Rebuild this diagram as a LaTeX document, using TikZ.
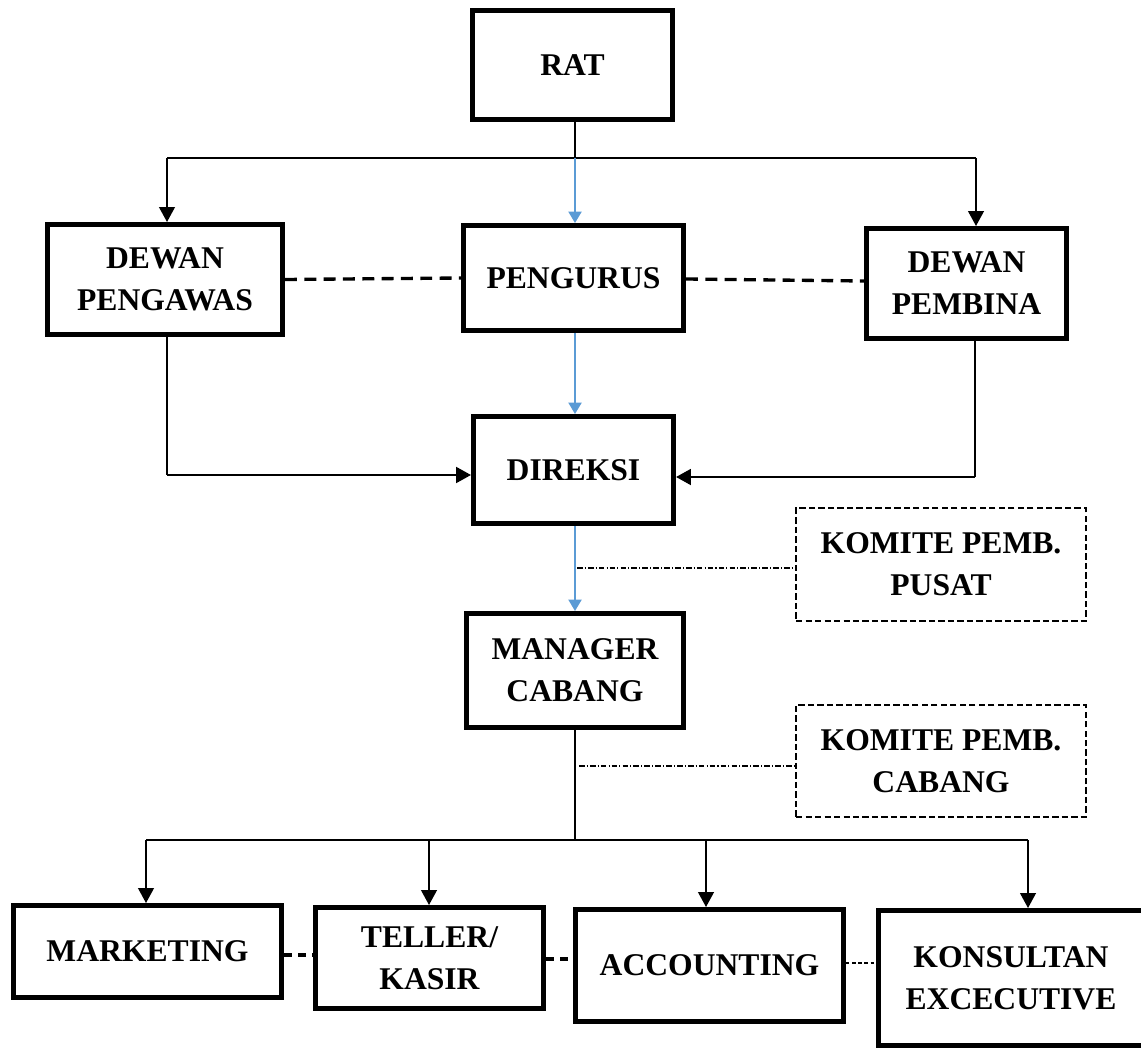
\documentclass[tikz,border=0pt]{standalone}
\usepackage{fontspec}
\setmainfont{Liberation Serif}
\usetikzlibrary{arrows.meta}
\definecolor{linkblue}{HTML}{5B9BD5}
\begin{document}
\begin{tikzpicture}[x=0.02cm,y=-0.02cm,
  txt/.style={align=center,font=\bfseries\fontsize{18}{24}\selectfont},
  box/.style={txt,draw,line width=3.1pt,rectangle,inner sep=0pt},
  bw/.style={minimum width=(#1)*0.02cm-3.1pt},
  bh/.style={minimum height=(#1)*0.02cm-3.1pt},
  kbox/.style={txt,draw,line width=1.2pt,dash pattern=on 3.6pt off 1.8pt,rectangle,inner sep=0pt,
    minimum width=292*0.02cm-1.2pt},
  thinline/.style={line width=0.7pt},
  arr/.style={line width=0.9pt,-{Triangle[width=9pt,length=8.5pt]}},
  arrthick/.style={line width=1.4pt,-{Triangle[width=9pt,length=8.5pt]}},
  barr/.style={line width=0.9pt,draw=linkblue,-{Triangle[width=7.5pt,length=6.5pt]},color=linkblue},
  thickdash/.style={line width=1.9pt,dash pattern=on 6.8pt off 4.2pt},
  shortdash/.style={line width=1.9pt,dash pattern=on 4.5pt off 3.5pt},
  dotline/.style={line width=0.8pt,dash pattern=on 1.9pt off 1.6pt},
  dashdot/.style={line width=0.6pt,dash pattern=on 3.2pt off 1.2pt on 0.6pt off 1.2pt}
]
\useasboundingbox (0,0) rectangle (1141,1050);
\fill[white] (0,0) rectangle (1141,1050);

% nodes
\node[box,bw=205,bh=114] (rat) at (572.5,65) {RAT};
\node[box,bw=240,bh=115] (pengawas) at (165,279.5) {DEWAN\\PENGAWAS};
\node[box,bw=225,bh=110] (pengurus) at (573.5,278) {PENGURUS};
\node[box,bw=205,bh=115] (pembina) at (966.5,283.5) {DEWAN\\PEMBINA};
\node[box,bw=205,bh=112] (direksi) at (573.5,470) {DIREKSI};
\node[box,bw=222,bh=119] (manager) at (575,670.5) {MANAGER\\CABANG};
\node[kbox,minimum height=115*0.02cm-1.2pt] (kpusat) at (941,564.5) {KOMITE PEMB.\\PUSAT};
\node[kbox,minimum height=114*0.02cm-1.2pt] (kcabang) at (941,761) {KOMITE PEMB.\\CABANG};
\node[box,bw=273,bh=97] (marketing) at (147.5,951.5) {MARKETING};
\node[box,bw=233,bh=106] (teller) at (429.5,958) {TELLER/\\KASIR};
\node[box,bw=273,bh=117] (accounting) at (709.5,965.5) {ACCOUNTING};
\node[box,bw=270,bh=140] (konsultan) at (1011,978) {KONSULTAN\\EXCECUTIVE};

% top bus
\coordinate (busC) at (575,158);
\coordinate (busL) at (167,158);
\coordinate (busR) at (976,158);
\draw[thinline] (rat.south -| busC) -- (busC);
\draw[thinline] (busL) -- (busR);
\draw[arr] (busL) -- (busL |- pengawas.north);
\draw[arr] (busR) -- (busR |- pembina.north);
\draw[barr] (busC) -- (busC |- pengurus.north);

% dashed links between top boxes
\draw[thickdash] (pengawas.east) -- (pengurus.east -| pengurus.west);
\draw[thickdash] (pengurus.east |- 0,279) -- (pembina.west |- 0,281);

% pengurus to direksi
\draw[barr] (pengurus.south -| busC) -- (direksi.north -| busC);

% side lines to direksi
\coordinate (cL) at (167,475);
\coordinate (cR) at (975,477);
\draw[thinline] (pengawas.south -| cL) -- (cL);
\draw[arrthick] (cL) -- (cL -| direksi.west);
\draw[thinline] (pembina.south -| cR) -- (cR);
\draw[arrthick] (cR) -- (cR -| direksi.east);

% direksi to manager
\draw[barr] (direksi.south -| busC) -- (manager.north -| busC);
\coordinate (dP) at (577,568);
\draw[dashdot] (dP) -- (dP -| kpusat.west);

% manager to bottom bus
\coordinate (bus2C) at (575,840);
\coordinate (bus2L) at (146,840);
\coordinate (bus2R) at (1028,840);
\coordinate (bus2a) at (429,840);
\coordinate (bus2b) at (706,840);
\draw[thinline] (manager.south -| bus2C) -- (bus2C);
\coordinate (dC) at (579,766);
\draw[dashdot] (dC) -- (dC -| kcabang.west);
\draw[thinline] (bus2L) -- (bus2R);
\draw[arr] (bus2L) -- (bus2L |- marketing.north);
\draw[arr] (bus2a) -- (bus2a |- teller.north);
\draw[arr] (bus2b) -- (bus2b |- accounting.north);
\draw[arr] (bus2R) -- (bus2R |- konsultan.north);

% bottom dashed links
\draw[shortdash] (marketing.east |- 0,955) -- (teller.west |- 0,955);
\draw[shortdash] (teller.east |- 0,959) -- (accounting.west |- 0,959);
\draw[dotline] (accounting.east |- 0,963) -- (konsultan.west |- 0,963);
\end{tikzpicture}
\end{document}
